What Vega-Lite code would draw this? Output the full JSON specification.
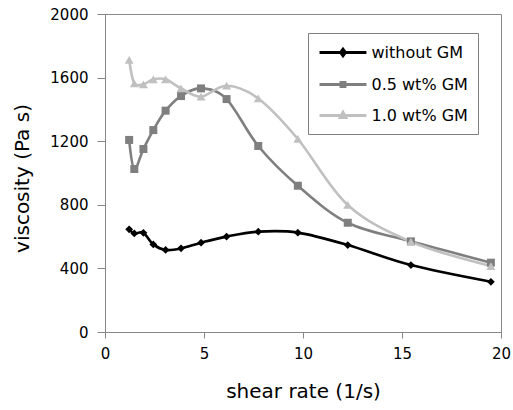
{
  "$schema": "https://vega.github.io/schema/vega-lite/v6.json",
  "autosize": {"type": "none"},
  "width": 396,
  "height": 318,
  "padding": {"left": 105, "top": 14, "right": 12, "bottom": 78},
  "background": "white",
  "config": {
    "view": {"stroke": "#888888", "strokeWidth": 1},
    "font": "DejaVu Sans",
    "axis": {
      "domainColor": "#888888",
      "tickColor": "#888888",
      "grid": false,
      "labelColor": "#000000",
      "titleColor": "#000000",
      "labelFont": "DejaVu Sans",
      "titleFont": "DejaVu Sans",
      "titleFontWeight": "normal",
      "labelFlush": false
    }
  },
  "data": {
    "values": [
      {"rate": 1.22, "viscosity": 646, "series": "without GM"},
      {"rate": 1.48, "viscosity": 620, "series": "without GM"},
      {"rate": 1.94, "viscosity": 624, "series": "without GM"},
      {"rate": 2.44, "viscosity": 551, "series": "without GM"},
      {"rate": 3.06, "viscosity": 516, "series": "without GM"},
      {"rate": 3.84, "viscosity": 526, "series": "without GM"},
      {"rate": 4.85, "viscosity": 562, "series": "without GM"},
      {"rate": 6.14, "viscosity": 600, "series": "without GM"},
      {"rate": 7.74, "viscosity": 631, "series": "without GM"},
      {"rate": 9.74, "viscosity": 625, "series": "without GM"},
      {"rate": 12.26, "viscosity": 547, "series": "without GM"},
      {"rate": 15.45, "viscosity": 421, "series": "without GM"},
      {"rate": 19.49, "viscosity": 316, "series": "without GM"},
      {"rate": 1.22, "viscosity": 1208, "series": "0.5 wt% GM"},
      {"rate": 1.48, "viscosity": 1025, "series": "0.5 wt% GM"},
      {"rate": 1.94, "viscosity": 1151, "series": "0.5 wt% GM"},
      {"rate": 2.44, "viscosity": 1270, "series": "0.5 wt% GM"},
      {"rate": 3.06, "viscosity": 1392, "series": "0.5 wt% GM"},
      {"rate": 3.84, "viscosity": 1484, "series": "0.5 wt% GM"},
      {"rate": 4.85, "viscosity": 1532, "series": "0.5 wt% GM"},
      {"rate": 6.14, "viscosity": 1465, "series": "0.5 wt% GM"},
      {"rate": 7.74, "viscosity": 1170, "series": "0.5 wt% GM"},
      {"rate": 9.74, "viscosity": 920, "series": "0.5 wt% GM"},
      {"rate": 12.26, "viscosity": 687, "series": "0.5 wt% GM"},
      {"rate": 15.45, "viscosity": 570, "series": "0.5 wt% GM"},
      {"rate": 19.49, "viscosity": 436, "series": "0.5 wt% GM"},
      {"rate": 1.22, "viscosity": 1711, "series": "1.0 wt% GM"},
      {"rate": 1.48, "viscosity": 1564, "series": "1.0 wt% GM"},
      {"rate": 1.94, "viscosity": 1558, "series": "1.0 wt% GM"},
      {"rate": 2.44, "viscosity": 1589, "series": "1.0 wt% GM"},
      {"rate": 3.06, "viscosity": 1589, "series": "1.0 wt% GM"},
      {"rate": 3.84, "viscosity": 1532, "series": "1.0 wt% GM"},
      {"rate": 4.85, "viscosity": 1480, "series": "1.0 wt% GM"},
      {"rate": 6.14, "viscosity": 1549, "series": "1.0 wt% GM"},
      {"rate": 7.74, "viscosity": 1469, "series": "1.0 wt% GM"},
      {"rate": 9.74, "viscosity": 1214, "series": "1.0 wt% GM"},
      {"rate": 12.26, "viscosity": 799, "series": "1.0 wt% GM"},
      {"rate": 15.45, "viscosity": 568, "series": "1.0 wt% GM"},
      {"rate": 19.49, "viscosity": 415, "series": "1.0 wt% GM"}
    ]
  },
  "encoding": {
    "x": {
      "field": "rate", "type": "quantitative",
      "scale": {"domain": [0, 20], "nice": false},
      "axis": {"values": [0, 5, 10, 15, 20], "title": "shear rate (1/s)", "tickSize": 6, "labelFontSize": 15, "labelPadding": 8, "titleFontSize": 20, "titlePadding": 20}
    },
    "y": {
      "field": "viscosity", "type": "quantitative",
      "scale": {"domain": [0, 2000], "nice": false},
      "axis": {"values": [0, 400, 800, 1200, 1600, 2000], "format": "d", "title": "viscosity (Pa s)", "tickSize": 8, "labelFontSize": 15, "labelPadding": 9, "titleFontSize": 20, "titlePadding": 17, "titleY": 164}
    },
    "color": {
      "field": "series", "type": "nominal",
      "scale": {"domain": ["without GM", "0.5 wt% GM", "1.0 wt% GM"], "range": ["#000000", "#7f7f7f", "#c0c0c0"]}
    }
  },
  "layer": [
    {
      "mark": {"type": "line", "interpolate": "cardinal", "tension": 0, "strokeWidth": 2.6},
      "encoding": {
        "color": {
          "field": "series", "type": "nominal",
          "scale": {"domain": ["without GM", "0.5 wt% GM", "1.0 wt% GM"], "range": ["#000000", "#7f7f7f", "#c0c0c0"]},
          "legend": {
            "title": null,
            "orient": "none",
            "legendX": 203,
            "legendY": 19,
            "padding": 10,
            "strokeColor": "#808080",
            "fillColor": "#ffffff",
            "labelFont": "DejaVu Sans",
            "labelFontSize": 16,
            "labelColor": "#000000",
            "labelOffset": 19,
            "symbolSize": 245,
            "symbolOffset": 15.5,
            "symbolStrokeWidth": 3,
            "rowPadding": 13,
            "labelExpr": "datum.label + '        '",
            "encode": {
              "symbols": {
                "update": {
                  "shape": {"signal": "datum.value === 'without GM' ? 'M-3,0H3M-0.3,0L0,-0.4L0.3,0L0,0.4Z' : datum.value === '0.5 wt% GM' ? 'M-3,0H3M-0.25,-0.25H0.25V0.25H-0.25Z' : 'M-3,0H3M-0.35,0.25L0,-0.4L0.35,0.25Z'"},
                  "strokeWidth": {"value": 3}
                }
              }
            }
          }
        }
      }
    },
    {
      "transform": [{"filter": "datum.series === 'without GM'"}],
      "mark": {"type": "point", "filled": true, "opacity": 1, "shape": "diamond", "size": 60}
    },
    {
      "transform": [{"filter": "datum.series === '0.5 wt% GM'"}],
      "mark": {"type": "point", "filled": true, "opacity": 1, "shape": "square", "size": 64}
    },
    {
      "transform": [{"filter": "datum.series === '1.0 wt% GM'"}],
      "mark": {"type": "point", "filled": true, "opacity": 1, "shape": "triangle-up", "size": 80}
    }
  ]
}
